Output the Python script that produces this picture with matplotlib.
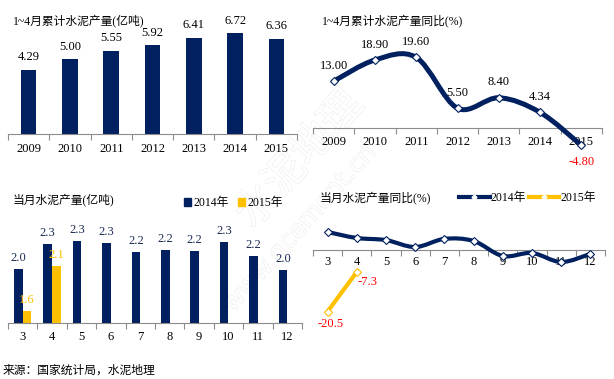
"""
China cement output panel: cumulative Jan-Apr output and monthly output / YoY
"""

import matplotlib
matplotlib.use("Agg")
import matplotlib.pyplot as plt
import matplotlib.patheffects as pe
from matplotlib.path import Path
from matplotlib.patches import PathPatch, Patch
from matplotlib.lines import Line2D

# ---- data ----
years = ["2009", "2010", "2011", "2012", "2013", "2014", "2015"]
cum_output = [4.29, 5.00, 5.55, 5.92, 6.41, 6.72, 6.36]
cum_yoy = [13.00, 18.90, 19.60, 5.50, 8.40, 4.34, -4.80]

months = ["3", "4", "5", "6", "7", "8", "9", "10", "11", "12"]
month_out_2014 = [2.03, 2.29, 2.32, 2.30, 2.21, 2.23, 2.22, 2.31, 2.17, 2.02]
month_out_2015 = [1.60, 2.06]
month_yoy_2014 = [6.0, 4.0, 3.3, 1.0, 3.7, 3.0, -2.0, -1.0, -4.0, -1.3]
month_yoy_2015 = [-20.5, -7.3]

NAVY = "#002060"
GOLD = "#FFC000"
RED = "#FF0000"
GREY = "#8c8c8c"
FONT = ["Liberation Serif", "Noto Sans CJK SC"]
NUM = 9  # size of tick and value labels

plt.rcParams["font.family"] = FONT

W, H = 614, 379
fig = plt.figure(figsize=(W / 100, H / 100), dpi=100)


def px_axes(x0, y0, x1, y1):
    # axes placed by pixel box (top-left origin)
    return fig.add_axes([x0 / W, 1 - y1 / H, (x1 - x0) / W, (y1 - y0) / H])


def excel_axis(ax, labels, base=0, pad=6):
    n = len(labels)
    for s in ["top", "right", "left"]:
        ax.spines[s].set_visible(False)
    # spine position first: moving it resets the tick settings
    ax.spines["bottom"].set_position(("data", base))
    ax.spines["bottom"].set_color(GREY)
    ax.set_xlim(-0.5, n - 0.5)
    ax.set_yticks([])
    ax.set_xticks([i - 0.5 for i in range(n + 1)])
    ax.set_xticklabels([])
    ax.tick_params(axis="x", which="major", length=4, color=GREY, direction="out")
    ax.set_xticks(range(n), minor=True)
    ax.set_xticklabels(labels, minor=True, fontsize=NUM)
    ax.tick_params(axis="x", which="minor", length=0, pad=pad)
    ax.patch.set_alpha(0)


def smooth_path(xs, ys):
    # Catmull-Rom style cubic Bezier through the data points
    pts = list(zip(xs, ys))
    verts = [pts[0]]
    codes = [Path.MOVETO]
    n = len(pts)
    for i in range(n - 1):
        p0 = pts[i - 1] if i > 0 else pts[i]
        p1 = pts[i]
        p2 = pts[i + 1]
        p3 = pts[i + 2] if i + 2 < n else pts[i + 1]
        c1 = (p1[0] + (p2[0] - p0[0]) / 6, p1[1] + (p2[1] - p0[1]) / 6)
        c2 = (p2[0] - (p3[0] - p1[0]) / 6, p2[1] - (p3[1] - p1[1]) / 6)
        verts += [c1, c2, p2]
        codes += [Path.CURVE4] * 3
    return Path(verts, codes)


# faint watermark, behind everything
wm = [pe.withStroke(linewidth=0.8, foreground="#ececec")]
fig.text(300 / W, 1 - 160 / H, "水泥地理", fontsize=30, rotation=48, color="white",
         ha="center", va="center", path_effects=wm, zorder=-1, family="Noto Sans CJK SC")
fig.text(300 / W, 1 - 228 / H, "www.gcement.cn", fontsize=18, rotation=48, color="white",
         ha="center", va="center", path_effects=wm, zorder=-1, family="DejaVu Sans")

# ---- top-left: cumulative output bars ----
ax1 = px_axes(8, 30, 297, 134)
ax1.set_ylim(0, 104 / 15)
x1 = range(len(years))
ax1.bar(x1, cum_output, width=0.38, color=NAVY)
for i, v in enumerate(cum_output):
    ax1.annotate(f"{v:.2f}", (i, v), xytext=(0, 9), textcoords="offset points",
                 ha="center", va="center", fontsize=NUM)
excel_axis(ax1, years, base=0, pad=6.5)
fig.text(13 / W, 1 - 21 / H, "1~4月累计水泥产量(亿吨)", fontsize=8.5, va="center")

# ---- top-right: cumulative YoY line ----
ax2 = px_axes(313, 35, 602, 160)
ax2.set_ylim(-32 / 3.6, 93 / 3.6)
ax2.add_patch(PathPatch(smooth_path(list(x1), cum_yoy), fill=False,
                        edgecolor=NAVY, lw=3.6, capstyle="round", zorder=3))
ax2.plot(list(x1), cum_yoy, ls="none", marker="D", ms=4, mfc="white",
         mec=NAVY, mew=0.8, zorder=4)
for i, v in enumerate(cum_yoy):
    if v < 0:
        ax2.annotate(f"{v:.2f}", (i, v), xytext=(0, -12), textcoords="offset points",
                     ha="center", va="center", fontsize=NUM, color=RED)
    else:
        ax2.annotate(f"{v:.2f}", (i, v), xytext=(0, 11), textcoords="offset points",
                     ha="center", va="center", fontsize=NUM)
excel_axis(ax2, years, base=0, pad=5.5)
fig.text(322 / W, 1 - 21 / H, "1~4月累计水泥产量同比(%)", fontsize=8.5, va="center")

# ---- bottom-left: monthly output bars ----
v0 = 1.476
ax3 = px_axes(8, 215, 302, 323)
ax3.set_ylim(v0, v0 + 108 / 97)
x3 = range(len(months))
bw = 0.29
ax3.bar([i - 0.15 for i in x3], [v - v0 for v in month_out_2014], bottom=v0,
        width=bw, color=NAVY)
ax3.bar([i + 0.15 for i in range(len(month_out_2015))],
        [v - v0 for v in month_out_2015], bottom=v0, width=bw, color=GOLD)
for i, v in enumerate(month_out_2014):
    ax3.annotate(f"{v:.1f}", (i - 0.15, v), xytext=(0, 8), textcoords="offset points",
                 ha="center", va="center", fontsize=NUM, color="#1a2a52")
for i, v in enumerate(month_out_2015):
    ax3.annotate(f"{v:.1f}", (i + 0.15, v), xytext=(0, 8), textcoords="offset points",
                 ha="center", va="center", fontsize=NUM, color=GOLD)
excel_axis(ax3, months, base=v0, pad=5.5)
fig.text(13 / W, 1 - 200 / H, "当月水泥产量(亿吨)", fontsize=8.5, va="center")
fig.legend(handles=[Patch(color=NAVY, label="2014年"), Patch(color=GOLD, label="2015年")],
           loc="center left", bbox_to_anchor=(178 / W, 1 - 203 / H), ncol=2,
           frameon=False, fontsize=8.5, handlelength=0.6, handleheight=0.6,
           handletextpad=0.2, columnspacing=0.8, borderpad=0)

# ---- bottom-right: monthly YoY lines ----
ax4 = px_axes(313, 215, 605, 330)
ax4.set_ylim(-80 / 3, 35 / 3)
ax4.add_patch(PathPatch(smooth_path(list(x3), month_yoy_2014), fill=False,
                        edgecolor=NAVY, lw=3, capstyle="round", zorder=3))
ax4.plot(list(x3), month_yoy_2014, ls="none", marker="D", ms=4, mfc="white",
         mec=NAVY, mew=0.8, zorder=4)
ax4.plot(range(len(month_yoy_2015)), month_yoy_2015, color=GOLD, lw=3,
         marker="D", ms=4, mfc="white", mec=GOLD, mew=0.8, zorder=4)
ax4.annotate(f"{month_yoy_2015[0]:.1f}", (0, month_yoy_2015[0]), xytext=(2, -9),
             textcoords="offset points", ha="center", va="center", fontsize=NUM, color=RED)
ax4.annotate(f"{month_yoy_2015[1]:.1f}", (1, month_yoy_2015[1]), xytext=(8, -7),
             textcoords="offset points", ha="center", va="center", fontsize=NUM, color=RED)
excel_axis(ax4, months, base=0, pad=4.5)
fig.text(320 / W, 1 - 198 / H, "当月水泥产量同比(%)", fontsize=8.5, va="center")
h14 = Line2D([], [], color=NAVY, lw=3, marker="D", ms=2.5, mfc="white", mec="white")
h15 = Line2D([], [], color=GOLD, lw=3, marker="D", ms=2.5, mfc="white", mec="white")
fig.legend(handles=[h14, h15], labels=["2014年", "2015年"], loc="center left",
           bbox_to_anchor=(453 / W, 1 - 198 / H), ncol=2, frameon=False, fontsize=8.5,
           handlelength=2.6, handletextpad=0.1, columnspacing=0.2, borderpad=0)

fig.text(3 / W, 1 - 370 / H, "来源：国家统计局，水泥地理", fontsize=8.5, va="center",
         family=["Noto Sans CJK SC"])

fig.savefig("out.png", dpi=100)
